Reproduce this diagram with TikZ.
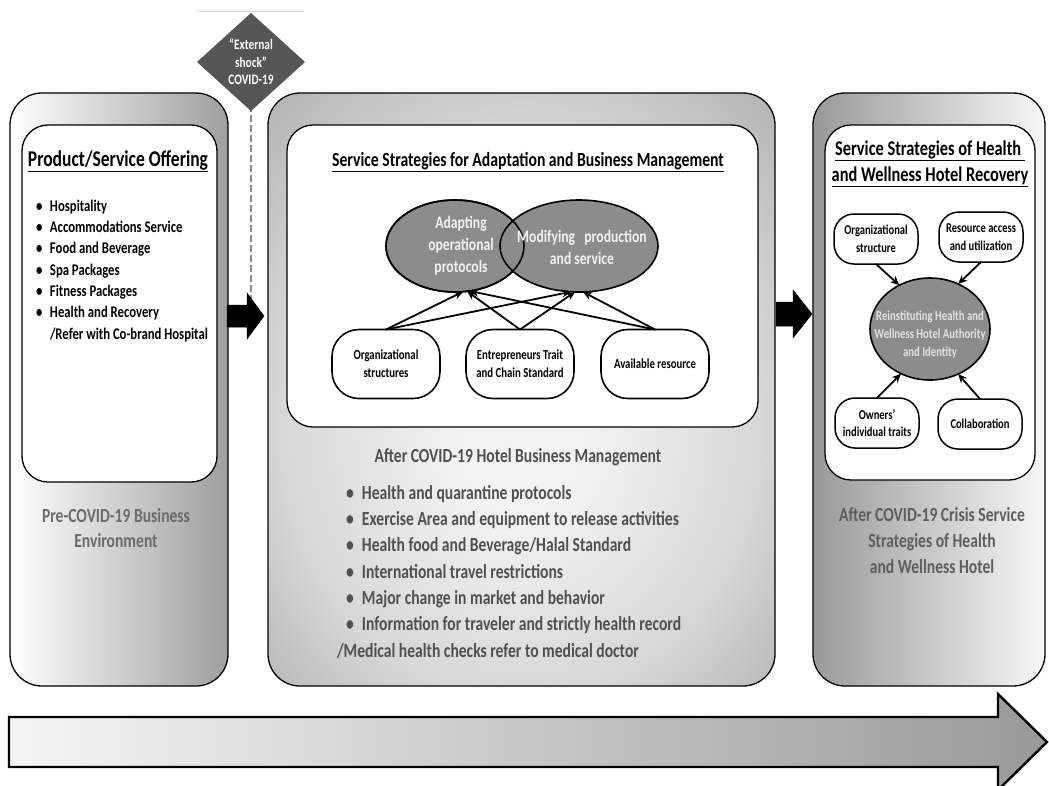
\documentclass[tikz,border=0pt]{standalone}
\usepackage{fontspec}
\setmainfont{Carlito}[FakeStretch=0.78]
\usetikzlibrary{shapes.geometric,arrows.meta,calc}
\definecolor{ellg}{HTML}{8C8C8C}
\definecolor{ellt}{HTML}{F2F2F2}
\definecolor{ellt2}{HTML}{E2E2E2}
\definecolor{dia}{HTML}{565656}
\definecolor{ptxt}{HTML}{6B6B6B}
\definecolor{mtxt}{HTML}{505050}
\definecolor{rtxt}{HTML}{5E5E5E}
\definecolor{dashc}{HTML}{8A8A8A}
\definecolor{shin}{HTML}{F3F3F3}
\definecolor{shmid}{HTML}{D6D6D6}
\definecolor{shout}{HTML}{A8A8A8}
\definecolor{shedge}{HTML}{9A9A9A}
\pgfdeclareradialshading{softrad}{\pgfpoint{0bp}{-5bp}}{color(0bp)=(shin); color(6bp)=(shin); color(24bp)=(shmid); color(40bp)=(shout); color(50bp)=(shedge)}
\begin{document}
\begin{tikzpicture}[x=1pt,y=-1pt,
  every node/.style={font=\bfseries, inner sep=0pt, outer sep=0pt},
  panel/.style={draw=black, line width=1.3pt, rounded corners=32pt, minimum height=593pt},
  whitebox/.style={draw=black, fill=white, line width=1.3pt, rounded corners=26pt},
  oval/.style={ellipse, draw=black, line width=1.6pt, fill=ellg},
  ovaltext/.style={text=ellt, align=center, font=\bfseries\fontsize{17.5}{22}\selectfont},
  pill/.style={draw=black, fill=white, line width=1.6pt, rounded corners=27pt, align=center,
    minimum width=108pt, minimum height=69pt, font=\bfseries\fontsize{13.8}{18}\selectfont},
  pillsm/.style={draw=black, fill=white, line width=1.5pt, rounded corners=20pt, align=center,
    minimum width=84pt, minimum height=50pt, font=\bfseries\fontsize{13.5}{17.5}\selectfont},
  link/.style={-{Stealth[length=9pt,width=8pt]}, line width=1.8pt},
  blockarrow/.style={fill=black, draw=black, line width=0.5pt},
  lbullet/.style={anchor=base west, font=\bfseries\fontsize{16.3}{20}\selectfont},
  mbullet/.style={anchor=base west, text=mtxt, font=\bfseries\fontsize{20}{24}\selectfont},
  ttl/.style={align=center, font=\bfseries\fontsize{21}{26}\selectfont}]
\useasboundingbox (0,0) rectangle (1049,785);

% faint line at top
\coordinate (fl1) at (196,11);
\coordinate (fl2) at (304,11);
\draw[black!15, line width=0.8pt] (fl1) -- (fl2);

% panels
\node[panel, left color=white, right color=black!38, minimum width=218pt] (lp) at (119,389.5) {};
\node[whitebox, minimum width=195pt, minimum height=357pt] (li) at (119.5,303.5) {};
\node[panel, shading=softrad, minimum width=507pt] (mp) at (521.5,389.5) {};
\node[whitebox, minimum width=471pt, minimum height=302pt] (mi) at (522.5,276) {};
\node[panel, left color=black!40, right color=white!97!black, minimum width=232pt] (rp) at (929,389.5) {};
\node[whitebox, minimum width=210pt, minimum height=355pt] (ri) at (930,302.5) {};

% left panel contents
\node[ttl, font=\bfseries\fontsize{22.5}{26}\selectfont] (lt) at (118,161) {\underline{Product/Service Offering}};
\foreach \t [count=\i] in {Hospitality,Accommodations Service,Food and Beverage,Spa Packages,Fitness Packages,Health and Recovery}
  \node[lbullet] (lb\i) at (36,{206+(\i-1)*21.3+5.3}) {\makebox[14pt][l]{•}\t};
\node[lbullet] (lb7) at (36,{206+6*21.3+5.3}) {\hspace*{14pt}/Refer with Co-brand Hospital};
\node[align=center, text=ptxt, font=\bfseries\fontsize{20}{25}\selectfont] (pre) at (116,528) {Pre-COVID-19 Business\\Environment};

% middle panel contents
\node[ttl, font=\bfseries\fontsize{20.1}{26}\selectfont] (mt) at (528,162) {\underline{Service Strategies for Adaptation and Business Management}};
\node[oval, minimum width=138pt, minimum height=92pt] (e1) at (455,246) {};
\node[oval, minimum width=158pt, minimum height=92pt] (e2) at (579,246) {};
\draw[line width=1.6pt] (e1.center) ellipse [x radius=69pt, y radius=46pt];
\node[ovaltext] (e1t) at (461,246) {Adapting\\operational\\protocols};
\node[ovaltext] (e2t) at (582,247.5) {Modifying\hspace{0.35em} production\\and service};

\node[pill] (org) at (386,364) {Organizational\\structures};
\node[pill] (ent) at (520,364) {Entrepreneurs Trait\\and Chain Standard};
\node[pill] (avl) at (655,364) {Available resource};

\draw[link] (org.north) -- (e1.-80);
\draw[link] (org.north) -- (e2.-100);
\draw[link] (ent.north) -- (e1.-75);
\draw[link] (ent.north) -- (e2.-95);
\draw[link] (avl.north) -- (e1.-72);
\draw[link] (avl.north) -- (e2.-85);

\node[text=mtxt, font=\bfseries\fontsize{20}{25}\selectfont] (aft) at (518,457) {After COVID-19 Hotel Business Management};
\foreach \t [count=\i] in {Health and quarantine protocols,Exercise Area and equipment to release activities,Health food and Beverage/Halal Standard,International travel restrictions,Major change in market and behavior,Information for traveler and strictly health record}
  \node[mbullet] (mb\i) at (346,{493+(\i-1)*26.3+6.3}) {\makebox[16pt][l]{•}\t};
\node[mbullet] (mb7) at (337,{493+6*26.3+6.3}) {/Medical health checks refer to medical doctor};

% right panel contents
\node[ttl] (rt) at (930,164) {\underline{Service Strategies of Health\ }\\\underline{and Wellness Hotel Recovery}};
\node[pillsm] (os) at (876,239) {Organizational\\structure};
\node[pillsm] (ra) at (981,237) {Resource access\\and utilization};
\node[pillsm] (ow) at (877,423) {Owners’\\individual traits};
\node[pillsm] (co) at (980,424) {Collaboration};
\node[oval, minimum width=120pt, minimum height=102pt] (ce) at (930,329) {};
\node[text=ellt2, align=center, font=\bfseries\fontsize{13.7}{18}\selectfont] (cet) at (930,335) {Reinstituting Health and\\Wellness Hotel Authority\\and Identity};
\draw[link] (os.south) -- (ce.125);
\draw[link] (ra.south) -- (ce.58);
\draw[link] (ow.north) -- (ce.-123);
\draw[link] (co.north) -- (ce.-58);
\node[align=center, text=rtxt, font=\bfseries\fontsize{20}{26}\selectfont] (rtx) at (932,541) {After COVID-19 Crisis Service\\Strategies of Health\\and Wellness Hotel};

% external shock
\coordinate (dend) at (251,307);
\draw[dashc, line width=1.6pt, dash pattern=on 7pt off 3pt] (251,105) -- (dend);
\node[diamond, fill=dia, minimum width=108pt, minimum height=98pt] (dm) at (251,62) {};
\node[text=white, align=center, font=\bfseries\fontsize{14.5}{17.5}\selectfont] (dmt) at (251,62) {“External\\shock”\\COVID-19};

% block arrows
\draw[blockarrow] (227,305) -- (247,305) -- (247,293) -- (264,316) -- (247,339) -- (247,327) -- (227,327) -- cycle;
\draw[blockarrow] (776,302) -- (793,302) -- (793,290) -- (812,314) -- (793,338) -- (793,326) -- (776,326) -- cycle;

% timeline arrow
\draw[line width=2.4pt, left color=black!4, right color=black!40] (9,717) -- (998,717) -- (998,694) -- (1047,742) -- (998,790) -- (998,767) -- (9,767) -- cycle;
\end{tikzpicture}
\end{document}
